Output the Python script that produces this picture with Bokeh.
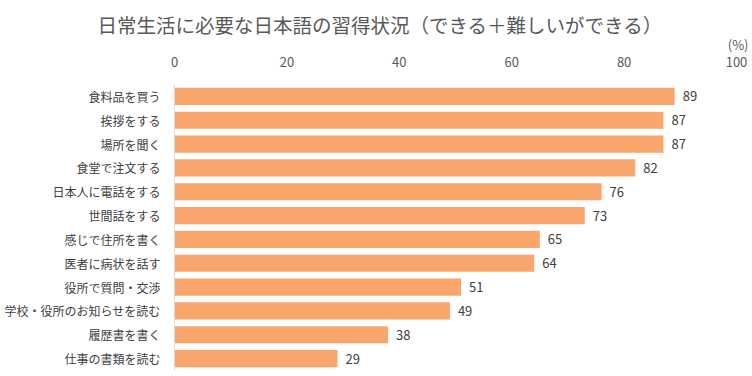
from bokeh.plotting import figure
from bokeh.models import FactorRange, Title, ColumnDataSource, FixedTicker
from bokeh.core.properties import value
from bokeh.embed import file_html
from bokeh.resources import INLINE

categories = ["食料品を買う", "挨拶をする", "場所を聞く", "食堂で注文する", "日本人に電話をする",
              "世間話をする", "感じで住所を書く", "医者に病状を話す", "役所で質問・交渉",
              "学校・役所のお知らせを読む", "履歴書を書く", "仕事の書類を読む"]
values = [89, 87, 87, 82, 76, 73, 65, 64, 51, 49, 38, 29]
x_ticks = [0, 20, 40, 60, 80, 100]
title_text = "日常生活に必要な日本語の習得状況（できる＋難しいができる）"
unit_text = "(%)"

FONT = "Noto Sans CJK JP"
TXT = "#595959"
BAR = "#F9A66C"

src = ColumnDataSource(dict(cat=categories, val=values, lab=[str(v) for v in values]))

p = figure(width=752, height=376, output_backend="svg", toolbar_location=None, title=None,
           y_range=FactorRange(factors=list(reversed(categories)), range_padding=0),
           x_range=(0, 100), x_axis_location="above",
           min_border_left=174, min_border_right=16, min_border_top=84, min_border_bottom=6)
p.outline_line_color = None
p.background_fill_color = "white"
p.border_fill_color = "white"

p.hbar(y="cat", right="val", left=0, height=0.72, source=src, color=BAR, line_color=None)
p.text(x="val", y="cat", text="lab", source=src, x_offset=8, text_baseline="middle",
       text_align="left", text_font=value(FONT), text_font_size="13px", text_color="#404040")

p.xgrid.grid_line_color = None
p.ygrid.grid_line_color = None

xa = p.xaxis[0]
xa.ticker = FixedTicker(ticks=x_ticks)
xa.axis_line_color = None
xa.major_tick_line_color = None
xa.minor_tick_line_color = None
xa.major_label_text_font = FONT
xa.major_label_text_font_size = "13px"
xa.major_label_text_color = TXT
xa.major_label_standoff = 12

ya = p.yaxis[0]
ya.axis_line_color = "#D9D9D9"
ya.major_tick_line_color = None
ya.minor_tick_line_color = None
ya.major_label_text_font = FONT
ya.major_label_text_font_size = "12px"
ya.major_label_text_color = "#404040"
ya.major_label_standoff = 8

p.add_layout(Title(text=unit_text, align="right", offset=-12, text_font=FONT,
                   text_font_size="13px", text_font_style="normal", text_color=TXT,
                   standoff=0), "above")
p.add_layout(Title(text=title_text, align="left", offset=-77, text_font=FONT,
                   text_font_size="19.5px", text_font_style="normal", text_color=TXT,
                   standoff=-12), "above")

open("out.html", "w").write(file_html(p, INLINE))
